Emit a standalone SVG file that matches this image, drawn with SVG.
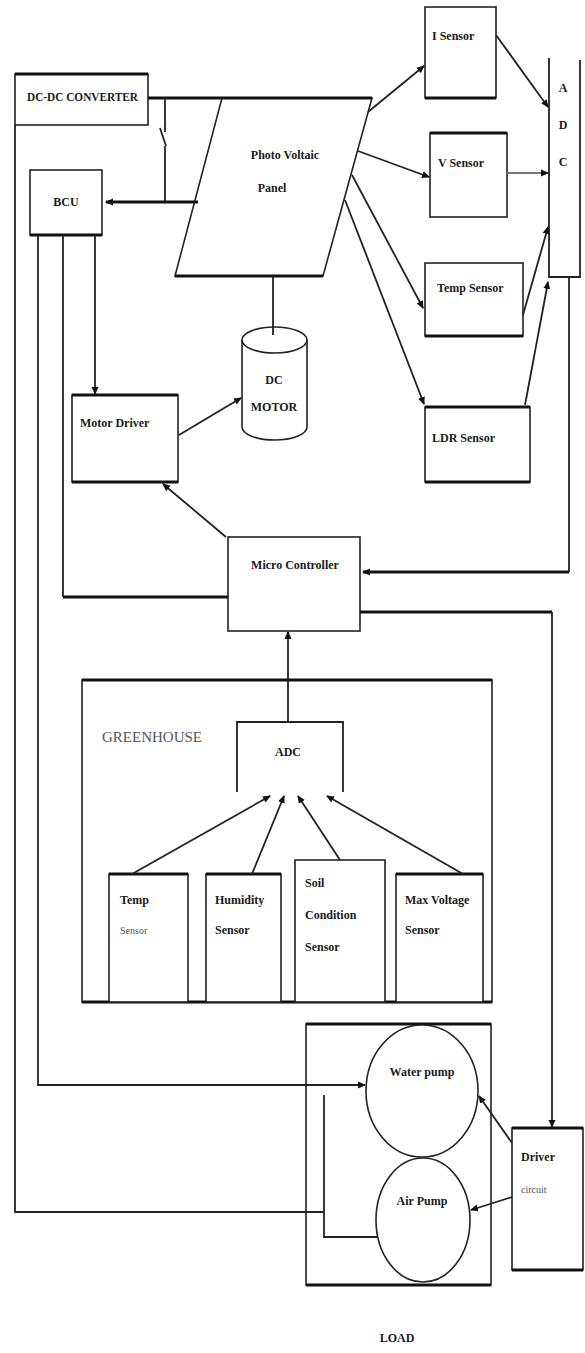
<svg xmlns="http://www.w3.org/2000/svg" width="585" height="1353" viewBox="0 0 585 1353">
<defs>
<marker id="ar" markerWidth="8" markerHeight="8" refX="7" refY="4" orient="auto" markerUnits="userSpaceOnUse">
<path d="M0,0.5 L8,4 L0,7.5 Z" fill="#111"/>
</marker>
<style>
.bx{fill:#fff;stroke:#222;stroke-width:1.6}
.fr{fill:none;stroke:#222;stroke-width:1.6}
.tk{stroke:#111;stroke-width:3.2;fill:none}
.ln{stroke:#222;stroke-width:1.8;fill:none}
.la{stroke:#222;stroke-width:1.8;fill:none;marker-end:url(#ar)}
.t{font-family:"Liberation Serif",serif;font-weight:bold;font-size:12px;fill:#1a1a1a}
.tc{font-family:"Liberation Serif",serif;font-weight:bold;font-size:12px;fill:#1a1a1a;text-anchor:middle}
.ts{font-family:"Liberation Serif",serif;font-size:10px;fill:#555}
</style>
</defs>
<rect width="585" height="1353" fill="#fff"/>

<g id="dcdc">
<rect class="bx" x="15" y="74" width="133" height="51"/>
<path class="tk" d="M15,74 H148"/>
<text class="t" x="27" y="101" textLength="111" lengthAdjust="spacingAndGlyphs">DC-DC CONVERTER</text>
</g>

<g id="panel">
<path class="bx" d="M222,98 L372,98 L323,276 L175,276 Z"/>
<path class="tk" d="M222,98 H372 M175,276 H323"/>
<text class="tc" x="285" y="159">Photo Voltaic</text>
<text class="tc" x="272" y="192">Panel</text>
</g>

<g id="bcu">
<rect class="bx" x="30" y="170" width="72" height="65"/>
<path class="tk" d="M30,235 H102"/>
<text class="tc" x="66" y="206" font-size="10">BCU</text>
</g>

<g id="isensor">
<rect class="bx" x="425" y="7" width="71" height="91"/>
<path class="tk" d="M425,98 H496"/>
<text class="t" x="432" y="40" font-size="11">I Sensor</text>
</g>

<g id="vsensor">
<rect class="bx" x="430" y="133" width="77" height="84"/>
<path class="tk" d="M430,133 H507"/>
<text class="t" x="438" y="167" font-size="11">V Sensor</text>
</g>

<g id="tempsensor">
<rect class="bx" x="425" y="263" width="98" height="73"/>
<path class="tk" d="M425,336 H523"/>
<text class="t" x="437" y="292" font-size="11">Temp Sensor</text>
</g>

<g id="ldrsensor">
<rect class="bx" x="425" y="407" width="105" height="75"/>
<path class="tk" d="M425,407 H530 M425,482 H530"/>
<text class="t" x="432" y="442" font-size="11">LDR Sensor</text>
</g>

<g id="adc-top">
<path class="ln" d="M549,58 V277 H580 V60"/>
<text class="tc" x="563" y="92" font-size="13">A</text>
<text class="tc" x="563" y="129" font-size="13">D</text>
<text class="tc" x="563" y="166" font-size="13">C</text>
</g>

<g id="dcmotor">
<path class="bx" d="M242,340 V427 A32.5,13 0 0 0 307,427 V340"/>
<ellipse class="bx" cx="274.5" cy="340" rx="32.5" ry="13"/>
<text class="tc" x="274" y="384" font-size="10">DC</text>
<text class="tc" x="274" y="411" font-size="10">MOTOR</text>
</g>

<g id="motordriver">
<rect class="bx" x="72" y="395" width="106" height="87"/>
<path class="tk" d="M72,395 H178 M72,482 H178"/>
<text class="t" x="80" y="427" font-size="11">Motor Driver</text>
</g>

<g id="microcontroller">
<rect class="bx" x="228" y="537" width="132" height="94"/>
<text class="tc" x="295" y="569" font-size="11">Micro Controller</text>
</g>

<g id="greenhouse">
<rect class="fr" x="82" y="680" width="410" height="322"/>
<path class="tk" d="M82,680 H492 M82,1002 H492"/>
<text x="102" y="742" font-family="Liberation Serif, serif" font-size="15" fill="#555">GREENHOUSE</text>
</g>

<g id="adc-gh">
<path class="ln" d="M237,792 V722 H343 V792"/>
<text class="tc" x="288" y="756" font-size="11">ADC</text>
</g>

<g id="gh-temp">
<rect class="bx" x="109" y="874" width="79" height="128"/>
<path class="tk" d="M109,874 H188"/>
<text class="t" x="120" y="904" font-size="11">Temp</text>
<text class="ts" x="120" y="934">Sensor</text>
</g>

<g id="gh-humidity">
<rect class="bx" x="206" y="874" width="75" height="128"/>
<path class="tk" d="M206,874 H281"/>
<text class="t" x="215" y="904" font-size="11">Humidity</text>
<text class="t" x="215" y="934" font-size="11">Sensor</text>
</g>

<g id="gh-soil">
<rect class="bx" x="295" y="860" width="90" height="142"/>
<text class="t" x="305" y="887" font-size="11">Soil</text>
<text class="t" x="305" y="919" font-size="11">Condition</text>
<text class="t" x="305" y="951" font-size="11">Sensor</text>
</g>

<g id="gh-maxvoltage">
<rect class="bx" x="396" y="874" width="87" height="128"/>
<path class="tk" d="M396,874 H483"/>
<text class="t" x="405" y="904" font-size="11">Max Voltage</text>
<text class="t" x="405" y="934" font-size="11">Sensor</text>
</g>

<g id="load">
<rect class="fr" x="306" y="1024" width="185" height="261"/>
<path class="tk" d="M306,1024 H491 M306,1285 H491"/>
<text class="tc" x="397" y="1342" font-size="10">LOAD</text>
</g>

<g id="waterpump">
<ellipse class="bx" cx="422" cy="1091" rx="56" ry="66"/>
<text class="tc" x="422" y="1076" font-size="11">Water pump</text>
</g>

<g id="airpump">
<ellipse class="bx" cx="423" cy="1220" rx="47" ry="62"/>
<text class="tc" x="422" y="1205" font-size="11">Air Pump</text>
</g>

<g id="driver">
<rect class="bx" x="512" y="1128" width="71" height="142"/>
<path class="tk" d="M512,1128 H583 M512,1270 H583"/>
<text class="t" x="521" y="1161" font-size="11">Driver</text>
<text class="ts" x="521" y="1193" font-size="9">circuit</text>
</g>

<g id="connectors">
<path class="tk" d="M148,98 H222"/>
<path class="ln" d="M165,98 V132 M160,128 L166,146 M165,146 V202"/>
<path class="tk" d="M198,202 H106" marker-end="url(#ar)"/>
<path class="la" d="M368,112 L424,66"/>
<path class="la" d="M358,151 L429,177"/>
<path class="la" d="M352,175 L423,308"/>
<path class="la" d="M345,200 L424,404"/>
<path class="la" d="M496,35 L548,107"/>
<path d="M507,173 H548" stroke="#777" stroke-width="2" fill="none" marker-end="url(#ar)"/>
<path class="la" d="M523,315 L548,227"/>
<path class="la" d="M525,405 L548,282"/>
<path class="ln" d="M273,276 V335"/>
<path class="ln" d="M15,125 V1212 H324"/>
<path class="ln" d="M324,1095 V1237 H377"/>
<path class="ln" d="M38,235 V1085 H365" marker-end="url(#ar)"/>
<path class="ln" d="M63,235 V597"/>
<path class="tk" d="M63,597 H228"/>
<path class="la" d="M95,235 V394"/>
<path class="la" d="M179,435 L241,398"/>
<path class="la" d="M226,537 L163,484"/>
<path class="ln" d="M569,277 V572"/>
<path class="tk" d="M569,572 H363" marker-end="url(#ar)"/>
<path class="tk" d="M360,612 H552"/>
<path class="la" d="M552,612 V1127"/>
<path class="la" d="M288,722 V632"/>
<path class="la" d="M132,874 L270,796"/>
<path class="la" d="M252,874 L284,796"/>
<path class="la" d="M340,860 L298,796"/>
<path class="la" d="M463,874 L327,796"/>
<path class="la" d="M512,1143 L479,1096"/>
<path class="la" d="M512,1197 L471,1210"/>
</g>
</svg>
